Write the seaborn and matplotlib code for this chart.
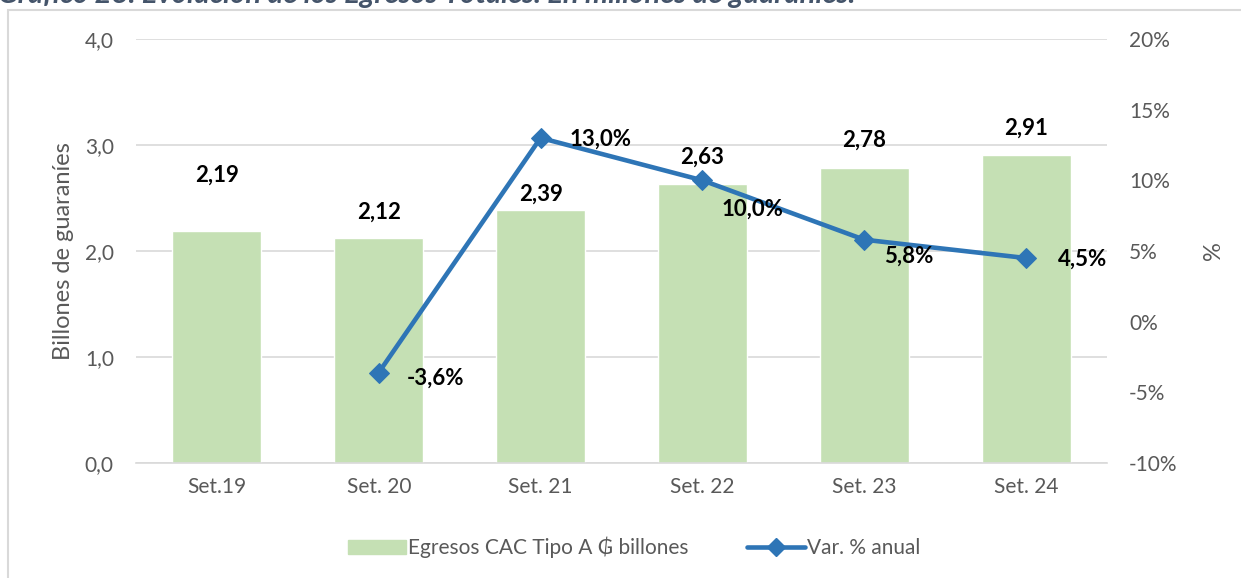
import matplotlib
matplotlib.use("Agg")
import matplotlib.pyplot as plt
import matplotlib.patches as mpatches
from matplotlib.lines import Line2D
import seaborn as sns
import pandas as pd

categories = ["Set.19", "Set. 20", "Set. 21", "Set. 22", "Set. 23", "Set. 24"]
egresos = [2.19, 2.12, 2.39, 2.63, 2.78, 2.91]
variacion = [None, -3.6, 13.0, 10.0, 5.8, 4.5]
bar_labels = ["2,19", "2,12", "2,39", "2,63", "2,78", "2,91"]
var_labels = [None, "-3,6%", "13,0%", "10,0%", "5,8%", "4,5%"]
left_ticks = [0, 1, 2, 3, 4]
left_ticklabels = ["0,0", "1,0", "2,0", "3,0", "4,0"]
right_ticks = [-10, -5, 0, 5, 10, 15, 20]
right_ticklabels = ["-10%", "-5%", "0%", "5%", "10%", "15%", "20%"]

sns.set_style("white")
plt.rcParams["font.family"] = ["Lato", "DejaVu Sans"]

GRAY = "#595959"
GREEN = "#C5E0B4"
BLUE = "#2E75B6"

fig = plt.figure(figsize=(12.41, 5.78), dpi=100)
ax = fig.add_axes([0.1096, 0.199, 0.7824, 0.7335])

df = pd.DataFrame({"cat": categories, "egresos": egresos})
sns.barplot(data=df, x="cat", y="egresos", color=GREEN, width=0.55,
            saturation=1, ax=ax, zorder=2)
ax.set_xlim(-0.5, 5.5)
ax.set_ylim(0, 4)
ax.set_yticks(left_ticks)
ax.set_yticklabels(left_ticklabels)
ax.yaxis.grid(True, color="#D9D9D9", linewidth=1.2, zorder=0)
ax.set_axisbelow(True)
for s in ["top", "right", "left"]:
    ax.spines[s].set_visible(False)
ax.spines["bottom"].set_color("#D9D9D9")
ax.spines["bottom"].set_linewidth(1.2)
ax.tick_params(axis="y", length=0, labelsize=15, colors=GRAY, pad=16)
ax.tick_params(axis="x", length=0, labelsize=15, colors=GRAY, pad=10)
ax.set_xlabel("")
ax.set_ylabel("Billones de guaraníes", fontsize=17, color=GRAY, labelpad=8)

bar_offsets = [56, 26, 15, 27, 28, 26]
for i, (v, lab) in enumerate(zip(egresos, bar_labels)):
    ax.annotate(lab, (i, v), xytext=(0, bar_offsets[i]), textcoords="offset pixels",
                ha="center", va="center", fontsize=16, fontweight="bold", color="black")

ax2 = ax.twinx()
line_x = [i for i, v in enumerate(variacion) if v is not None]
line_y = [v for v in variacion if v is not None]
ldf = pd.DataFrame({"x": line_x, "y": line_y})
sns.lineplot(data=ldf, x="x", y="y", color=BLUE, linewidth=3.3, marker="D",
             markersize=10, markeredgecolor=BLUE, ax=ax2, zorder=3)
ax2.set_ylim(-10, 20)
ax2.set_yticks(right_ticks)
ax2.set_yticklabels(right_ticklabels)
ax2.set_xlim(-0.5, 5.5)
for s in ["top", "right", "left", "bottom"]:
    ax2.spines[s].set_visible(False)
ax2.tick_params(axis="y", length=0, labelsize=15, colors=GRAY, pad=16)
ax2.set_xlabel("")
ax2.set_ylabel("%", fontsize=17, color=GRAY, labelpad=18)

var_offsets = [None, (57, -6), (60, -1), (50, -29), (45, -17), (57, -1)]
for i, (v, lab) in enumerate(zip(variacion, var_labels)):
    if v is None:
        continue
    ax2.annotate(lab, (i, v), xytext=var_offsets[i], textcoords="offset pixels",
                 ha="center", va="center", fontsize=16, fontweight="bold", color="black")

handles = [mpatches.Patch(color=GREEN, label="Egresos CAC Tipo A ₲ billones"),
           Line2D([0], [0], color=BLUE, linewidth=3.3, marker="D", markersize=9,
                  label="Var. % anual")]
leg = fig.legend(handles=handles, loc="center", bbox_to_anchor=(0.511, 0.053),
                 ncol=2, frameon=False, fontsize=15, handlelength=2.8,
                 handletextpad=0.1, columnspacing=2.8)
for t in leg.get_texts():
    t.set_color(GRAY)

# outer frame
fig.patches.append(mpatches.Rectangle((8 / 1241, -0.05), 1.1, 1 - 10 / 578 + 0.05,
                                      transform=fig.transFigure, fill=False,
                                      edgecolor="#D9D9D9", linewidth=1.5))
# clipped title at top
fig.text(-0.002, 1.0 + 5 / 578, "Gráfico 28. Evolución de los Egresos Totales. En millones de guaraníes.",
         ha="left", va="center", fontsize=21, fontweight="bold", fontstyle="italic",
         color="#44546A")

fig.savefig("out.png", dpi=100)
